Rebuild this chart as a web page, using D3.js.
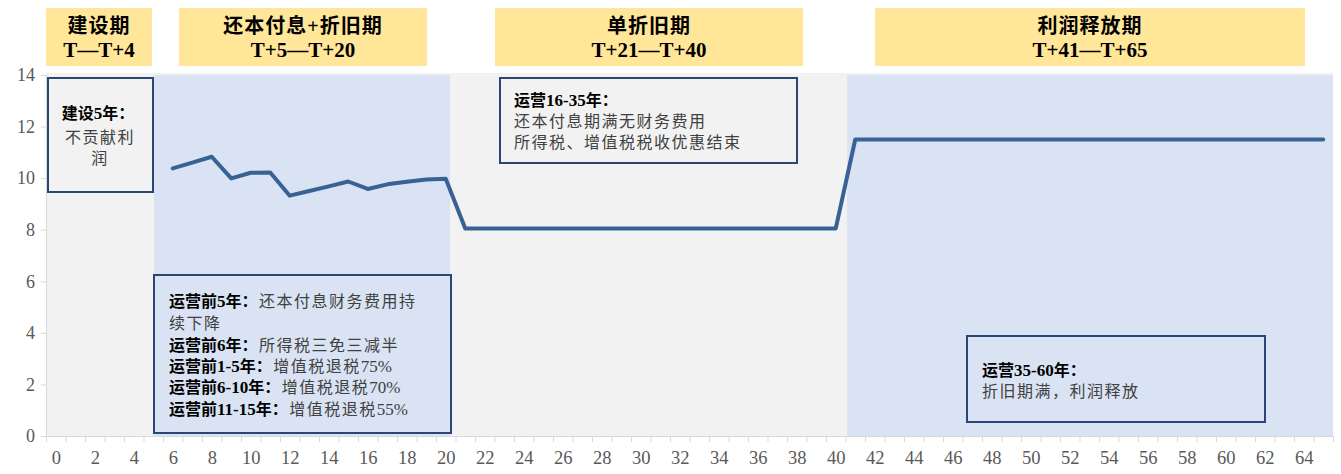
<!DOCTYPE html>
<html>
<head>
<meta charset="utf-8">
<script src="https://cdn.jsdelivr.net/npm/d3@7"></script>
<style>
  body { margin: 0; background: #fff; }
  text { font-family: "Liberation Serif", "Noto Sans CJK SC", serif; }
</style>
</head>
<body>
<div class="chart"></div>
<script>
// data
const years = [6, 7, 8, 9, 10, 11, 12, 13, 14, 15, 16, 17, 18, 19, 20,
  21, 22, 23, 24, 25, 26, 27, 28, 29, 30, 31, 32, 33, 34, 35, 36, 37, 38, 39, 40,
  41, 42, 43, 44, 45, 46, 47, 48, 49, 50, 51, 52, 53, 54, 55, 56, 57, 58, 59, 60,
  61, 62, 63, 64, 65];
const profit = [10.38, 10.6, 10.83, 9.99, 10.21, 10.22, 9.32, 9.5, 9.68, 9.87, 9.58, 9.76, 9.86, 9.95, 9.98,
  8.05, 8.05, 8.05, 8.05, 8.05, 8.05, 8.05, 8.05, 8.05, 8.05, 8.05, 8.05, 8.05, 8.05, 8.05, 8.05, 8.05, 8.05, 8.05, 8.05,
  11.5, 11.5, 11.5, 11.5, 11.5, 11.5, 11.5, 11.5, 11.5, 11.5, 11.5, 11.5, 11.5, 11.5, 11.5, 11.5, 11.5, 11.5, 11.5, 11.5,
  11.5, 11.5, 11.5, 11.5, 11.5];
const xTickLabels = ["0", "2", "4", "6", "8", "10", "12", "14", "16", "18", "20", "22", "24", "26", "28", "30",
  "32", "34", "36", "38", "40", "42", "44", "46", "48", "50", "52", "54", "56", "58", "60", "62", "64"];
const yTicks = [0, 2, 4, 6, 8, 10, 12, 14];
// shaded periods (x units)
const bandStart = [5.04, 40.58];
const bandEnd = [20.22, 65.5];
// phase headers
const phaseNames = ["建设期", "还本付息+折旧期", "单折旧期", "利润释放期"];
const phaseRanges = ["T—T+4", "T+5—T+20", "T+21—T+40", "T+41—T+65"];

const svgWidth = 1341;
const svgHeight = 474;
const margin = { top: 75, right: 8, bottom: 38, left: 46 };
const width = svgWidth - margin.left - margin.right;
const height = svgHeight - margin.top - margin.bottom;

const svg = d3.select(".chart")
  .append("svg")
  .attr("width", svgWidth)
  .attr("height", svgHeight);

const chartGroup = svg.append("g")
  .attr("transform", `translate(${margin.left}, ${margin.top})`);

const xScale = d3.scaleLinear().domain([-0.5, 65.5]).range([0, width]);
const yScale = d3.scaleLinear().domain([0, 14]).range([height, 0]);

// plot background
chartGroup.append("rect")
  .attr("x", 0).attr("y", -2)
  .attr("width", width).attr("height", height + 2)
  .attr("fill", "#f2f2f2");

// blue bands
chartGroup.selectAll(".band")
  .data(bandStart)
  .enter()
  .append("rect")
  .attr("class", "band")
  .attr("x", d => xScale(d))
  .attr("y", yScale(14))
  .attr("width", (d, i) => xScale(bandEnd[i]) - xScale(d))
  .attr("height", yScale(0) - yScale(14))
  .attr("fill", "#dae3f3");

// axes
const tickMarks = d3.axisBottom(xScale)
  .tickValues(d3.range(-0.5, 66, 1))
  .tickSize(6)
  .tickFormat("");
const xAxis = chartGroup.append("g")
  .attr("transform", `translate(0, ${height})`)
  .call(tickMarks);
xAxis.selectAll("line, path").attr("stroke", "#d9d9d9");

const labelAxis = d3.axisBottom(xScale)
  .tickValues(xTickLabels.map(Number))
  .tickSize(0)
  .tickPadding(15)
  .tickFormat((d, i) => xTickLabels[i]);
const xLabels = chartGroup.append("g")
  .attr("transform", `translate(0, ${height})`)
  .call(labelAxis);
xLabels.select(".domain").remove();
xLabels.selectAll("text")
  .attr("font-size", 18.5)
  .attr("font-family", "Liberation Serif")
  .attr("fill", "#595959");

const leftAxis = d3.axisLeft(yScale)
  .tickValues(yTicks)
  .tickSize(5)
  .tickPadding(6);
const yAxis = chartGroup.append("g").call(leftAxis);
yAxis.selectAll("line, path").attr("stroke", "#d9d9d9");
yAxis.selectAll("text")
  .attr("font-size", 18)
  .attr("font-family", "Liberation Serif")
  .attr("fill", "#595959");

// profit line
const line = d3.line()
  .x((d, i) => xScale(years[i]))
  .y(d => yScale(d));
chartGroup.append("path")
  .datum(profit)
  .attr("d", line)
  .attr("fill", "none")
  .attr("stroke", "#386294")
  .attr("stroke-width", 4)
  .attr("stroke-linejoin", "round")
  .attr("stroke-linecap", "round");

// phase header boxes
const headerBoxes = [[46, 152], [179, 427], [495, 803], [875, 1305]];
const headers = svg.selectAll(".header")
  .data(phaseNames)
  .enter()
  .append("g")
  .attr("class", "header");
headers.append("rect")
  .attr("x", (d, i) => headerBoxes[i][0])
  .attr("y", 8)
  .attr("width", (d, i) => headerBoxes[i][1] - headerBoxes[i][0])
  .attr("height", 58)
  .attr("fill", "#ffe699");
headers.append("text")
  .attr("x", (d, i) => (headerBoxes[i][0] + headerBoxes[i][1]) / 2)
  .attr("y", 33)
  .attr("text-anchor", "middle")
  .attr("font-size", 20)
  .attr("font-weight", "bold")
  .attr("letter-spacing", 1)
  .attr("fill", "#000")
  .text(d => d);
headers.append("text")
  .attr("x", (d, i) => (headerBoxes[i][0] + headerBoxes[i][1]) / 2)
  .attr("y", 57)
  .attr("text-anchor", "middle")
  .attr("font-size", 21)
  .attr("font-weight", "bold")
  .attr("fill", "#000")
  .text((d, i) => phaseRanges[i]);

// annotation boxes
function noteBox(x, y, w, h, fill) {
  svg.append("rect")
    .attr("x", x).attr("y", y)
    .attr("width", w).attr("height", h)
    .attr("fill", fill)
    .attr("stroke", "#2b4675")
    .attr("stroke-width", 2);
}

// chinese runs get spaced out, latin runs do not
function addRuns(t, str, bold) {
  str.match(/[\x00-\x7f]+|[^\x00-\x7f]+/g).forEach(run => {
    const latin = /^[\x00-\x7f]/.test(run);
    t.append("tspan")
      .attr("font-weight", bold ? "bold" : null)
      .attr("fill", bold ? "#000" : "#404040")
      .attr("font-size", latin ? 17 : 16)
      .attr("letter-spacing", bold || latin ? 0 : 1.5)
      .text(run);
  });
}

function noteLine(x, y, bold, normal, anchor) {
  const t = svg.append("text")
    .attr("x", x).attr("y", y)
    .attr("font-size", 16)
    .attr("text-anchor", anchor || "start");
  if (bold) addRuns(t, bold, true);
  if (normal) {
    if (bold) t.append("tspan").attr("font-size", 6).text(" ");
    addRuns(t, normal, false);
  }
}

noteBox(48, 78, 105, 114, "#f2f2f2");
noteLine(98, 119, "建设5年：", null, "middle");
noteLine(100, 143, null, "不贡献利", "middle");
noteLine(100, 164, null, "润", "middle");

noteBox(154, 275, 297, 158, "#dae3f3");
noteLine(169, 307, "运营前5年：", "还本付息财务费用持");
noteLine(169, 329, null, "续下降");
noteLine(169, 351, "运营前6年：", "所得税三免三减半");
noteLine(169, 372, "运营前1-5年：", "增值税退税75%");
noteLine(169, 393, "运营前6-10年：", "增值税退税70%");
noteLine(169, 415, "运营前11-15年：", "增值税退税55%");

noteBox(500, 78, 297, 85, "#f2f2f2");
noteLine(514, 106, "运营16-35年：", null);
noteLine(514, 127, null, "还本付息期满无财务费用");
noteLine(514, 148, null, "所得税、增值税税收优惠结束");

noteBox(967, 336, 298, 86, "#dae3f3");
noteLine(982, 376, "运营35-60年：", null);
noteLine(982, 397, null, "折旧期满，利润释放");
</script>
</body>
</html>
